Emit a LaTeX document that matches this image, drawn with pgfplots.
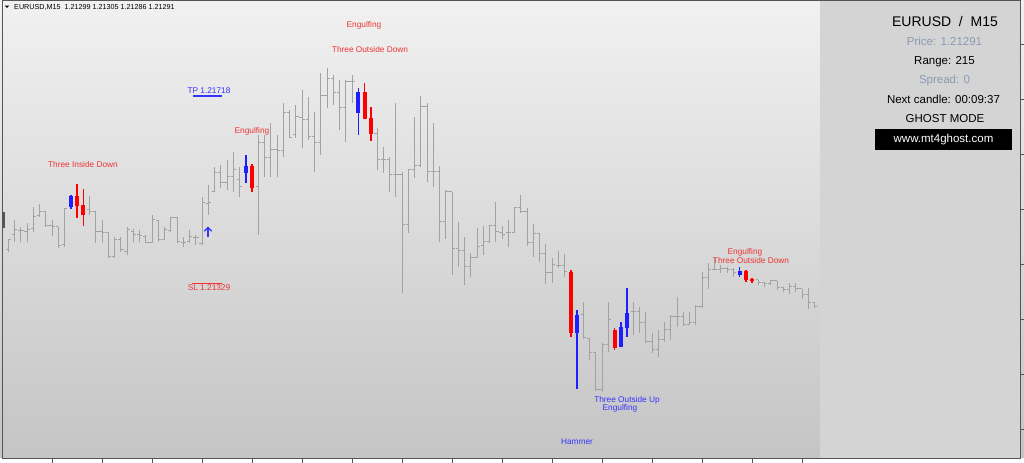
\documentclass[border=0pt]{standalone}
\usepackage{pgfplots}
\pgfplotsset{compat=1.18}
\usepackage{pgfplotstable}
\usepackage{fontspec}
\setmainfont{Liberation Sans}

\definecolor{barcol}{HTML}{A2A2A2}
\definecolor{bullcol}{HTML}{1E1EFF}
\definecolor{bearcol}{HTML}{FF0000}
\definecolor{lblred}{HTML}{EE3434}
\definecolor{lblblue}{HTML}{3434FF}
\definecolor{panel}{HTML}{D4D4D4}
\definecolor{dimtxt}{HTML}{8A9AB2}
\definecolor{bgtop}{HTML}{F1F1F1}
\definecolor{bgbot}{HTML}{C4C4C4}
\definecolor{frame}{HTML}{555555}

% open tick to the left, close tick to the right
\pgfdeclareplotmark{otick}{\pgfpathmoveto{\pgfpoint{-2.7bp}{0pt}}\pgfpathlineto{\pgfpoint{0pt}{0pt}}\pgfusepathqstroke}
\pgfdeclareplotmark{ctick}{\pgfpathmoveto{\pgfpoint{0pt}{0pt}}\pgfpathlineto{\pgfpoint{2.7bp}{0pt}}\pgfusepathqstroke}
% vertical segment going up from the point, \rng long (pt)
\pgfdeclareplotmark{vseg}{\pgfpathmoveto{\pgfpointorigin}\pgfpathlineto{\pgfpoint{0pt}{\rng pt}}\pgfusepathqstroke}

% EURUSD M15, prices in pips above 1.2000: bar index, open, high, low, close
\pgfplotstableread{
i o h l c
0 140.4 142.6 140.0 142.4
1 143.4 146.4 142.0 144.4
2 144.2 145.0 142.0 144.2
3 144.0 145.8 142.0 144.4
4 144.6 149.0 144.0 147.0
5 147.2 149.6 147.0 148.0
6 148.0 148.0 145.0 145.2
7 145.2 146.4 143.2 145.0
8 145.0 145.0 140.8 141.2
9 141.4 148.8 141.0 148.6
13 148.4 151.2 147.4 148.0
14 148.0 148.2 141.8 144.0
15 144.0 146.4 141.8 143.8
16 143.8 144.0 138.8 139.0
17 139.0 143.0 138.8 142.4
18 142.4 143.0 140.0 140.4
19 140.0 145.0 139.4 144.4
20 144.0 144.6 142.0 143.4
21 143.4 144.4 142.0 143.2
22 143.0 143.4 141.8 141.8
23 141.8 147.4 141.8 146.4
24 146.2 146.4 142.0 142.4
25 142.4 145.0 142.4 144.4
26 144.2 147.0 144.0 146.8
27 146.8 147.0 141.8 142.0
28 141.8 143.0 141.0 141.8
29 142.0 144.4 141.8 143.0
30 142.8 143.4 141.4 142.8
31 141.6 151.0 141.4 149.8
32 149.6 153.4 147.4 149.8
33 152.0 157.0 152.0 155.8
34 155.8 157.4 152.8 153.8
35 153.8 158.4 152.4 155.0
36 155.0 160.0 152.0 156.4
37 154.4 157.0 151.0 153.0
40 153.0 163.4 143.4 161.8
41 161.8 163.4 155.0 158.8
42 158.8 165.8 155.0 160.4
43 160.4 163.4 155.0 160.2
44 160.2 169.8 159.0 167.8
45 167.8 168.4 162.8 162.8
46 163.4 169.4 162.8 167.0
47 166.8 172.4 160.8 166.4
48 166.4 171.0 162.4 163.0
49 163.0 168.0 156.0 161.8
50 161.8 175.8 159.4 171.2
51 171.2 176.8 168.8 174.6
52 174.6 175.4 169.4 171.8
53 171.8 174.4 164.4 168.8
54 168.8 174.4 162.0 174.0
55 174.0 175.4 169.8 174.0
59 163.6 164.8 156.4 158.4
60 158.4 161.0 155.8 158.4
61 158.4 159.0 152.0 155.4
62 155.4 169.8 151.0 155.4
63 155.4 156.0 131.8 145.4
64 145.4 156.4 143.8 156.4
65 156.4 167.0 154.8 157.2
66 157.2 171.2 157.0 169.0
67 169.0 169.8 154.0 156.0
68 156.0 165.8 153.0 156.0
69 156.0 157.2 142.0 146.0
70 146.0 152.4 142.6 152.0
71 152.0 152.0 135.4 140.6
72 140.6 146.0 137.0 140.2
73 140.2 143.0 133.4 137.0
74 137.0 139.8 135.0 138.8
75 138.8 144.8 138.8 141.0
76 141.2 145.2 139.4 142.0
77 142.0 145.4 141.8 145.2
78 145.2 150.0 142.0 144.0
79 143.8 145.2 142.6 143.4
80 143.8 146.4 141.0 143.8
81 143.8 149.0 143.8 148.8
82 148.8 151.4 147.8 148.0
83 148.0 148.8 141.2 141.8
84 141.8 145.6 139.0 143.6
85 143.6 143.6 138.0 139.6
86 139.6 141.6 133.6 135.8
87 135.8 138.8 133.8 137.4
88 137.2 140.2 136.8 137.2
89 137.2 139.6 135.0 136.0
92 127.4 130.0 122.6 122.8
93 122.6 122.8 118.4 119.8
94 119.8 120.0 112.2 112.4
95 112.4 121.8 112.0 121.4
96 121.4 130.0 120.0 126.4
100 128.0 130.0 123.4 128.0
101 128.0 129.0 123.8 125.8
102 125.8 128.0 121.8 122.0
103 122.0 123.8 119.8 120.4
104 120.4 124.4 119.0 122.4
105 122.4 126.0 122.0 124.4
106 124.4 127.4 122.4 127.0
107 127.0 131.0 125.0 127.0
108 127.0 128.0 125.2 125.4
109 125.4 128.0 125.4 125.8
110 125.8 129.4 125.4 129.0
111 129.0 136.0 128.8 134.8
112 134.8 137.8 132.6 136.4
113 136.4 138.8 136.4 136.4
114 136.4 137.4 135.8 136.6
115 136.6 137.0 135.8 136.4
116 136.4 136.8 135.0 135.8
120 134.4 134.4 133.4 133.8
121 133.8 134.0 133.0 133.6
122 133.6 134.4 133.4 134.2
123 134.2 134.2 132.4 132.8
124 132.8 133.0 132.0 132.4
125 132.4 133.8 131.6 133.0
126 133.0 133.8 132.0 132.6
127 132.6 132.6 130.6 131.4
128 131.4 132.8 128.6 129.8
129 129.8 130.0 128.8 129.0
}\bars

% one pip is 5bp (463bp for 92.6 pips)
\pgfplotsset{
  seg/.style n args={3}{only marks, mark=vseg,
    mark options={draw=#1, line width=#2},
    visualization depends on={5.01875*(#3) \as \rng}},
  candle/.style n args={2}{draw=#1, color=#1, line width=#2, line cap=butt,
    mark=none, unbounded coords=jump},
}

\begin{document}
\begin{tikzpicture}
\begin{axis}[
    name=ax,
    scale only axis,
    width=1024bp, height=463bp,
    xmin=-1.328, xmax=162.512,
    ymin=97.8, ymax=190.4,
    axis lines=none, ticks=none,
    clip=false,
]
\shade[top color=bgtop, bottom color=bgbot] (rel axis cs:0,0) rectangle (rel axis cs:1,1);

% gray OHLC bars
\addplot[seg={barcol}{1bp}{\thisrow{h}-\thisrow{l}}] table[x=i, y=l] {\bars};
\addplot[only marks, mark=otick, mark options={draw=barcol, line width=1bp}]
    table[x=i, y=o] {\bars};
\addplot[only marks, mark=ctick, mark options={draw=barcol, line width=1bp}]
    table[x=i, y=c] {\bars};

% pattern candles, bullish: wick low-high, then body open-close
\addplot[candle={bullcol}{1.5bp}] coordinates {
  (10,148.6) (10,151.4) (10,nan) (38,153.8) (38,159.4) (38,nan)
  (56,163.4) (56,172.8) (56,nan) (91,112.6) (91,128.4) (91,nan)
  (98,121.0) (98,126.0) (98,nan) (99,123.0) (99,132.8) (99,nan)
  (117,135.0) (117,137.0)};
\addplot[candle={bullcol}{4bp}] coordinates {
  (10,149.0) (10,151.2) (10,nan) (38,155.8) (38,157.2) (38,nan)
  (56,167.8) (56,172.0) (56,nan) (91,123.8) (91,127.4) (91,nan)
  (98,121.0) (98,125.0) (98,nan) (99,124.8) (99,127.8) (99,nan)
  (117,135.4) (117,136.2)};
% pattern candles, bearish
\addplot[candle={bearcol}{1.5bp}] coordinates {
  (11,146.8) (11,153.6) (11,nan) (12,145.2) (12,152.6) (12,nan)
  (39,152.0) (39,157.6) (39,nan) (57,166.6) (57,173.8) (57,nan)
  (58,162.2) (58,169.0) (58,nan) (90,123.0) (90,136.4) (90,nan)
  (97,120.4) (97,124.8) (97,nan) (118,134.0) (118,136.4) (118,nan)
  (119,133.8) (119,134.8)};
\addplot[candle={bearcol}{4bp}] coordinates {
  (11,151.2) (11,149.2) (11,nan) (12,149.4) (12,147.4) (12,nan)
  (39,157.2) (39,152.8) (39,nan) (57,172.0) (57,166.6) (57,nan)
  (58,166.8) (58,163.6) (58,nan) (90,136.0) (90,123.8) (90,nan)
  (97,124.4) (97,120.8) (97,nan) (118,136.2) (118,134.4) (118,nan)
  (119,134.6) (119,134.2)};
\end{axis}

% overlay in pixel units, origin top left
\begin{scope}[shift={(ax.north west)}, x=1bp, y=-1bp]
  % info panel
  \fill[panel] (820,0) rectangle (1020.5,458);
  % frame and bottom strip
  \fill[white] (0,458.5) rectangle (1024,463);
  \draw[frame, line width=1bp] (2.5,0.5) rectangle (1020.5,458.5);
  \fill[frame] (2,212) rectangle (5,228);
  \foreach \t in {52,102,...,802} \draw[frame, line width=1bp] (\t,458.5) -- (\t,463);
  \foreach \t in {45,100,...,430} \draw[frame, line width=1bp] (1020.5,\t) -- (1024,\t);

  % title line
  \fill[black] (4.8,5.6) -- (9.4,5.6) -- (7.1,7.9) -- cycle;
  \node[anchor=base west, inner sep=0, font=\fontsize{7.2bp}{8bp}\selectfont] at (14,9.4)
    {EURUSD,M15\ \ 1.21299 1.21305 1.21286 1.21291};

  % pattern labels
  \begin{scope}[every node/.style={anchor=base, inner sep=0, font=\fontsize{8.3bp}{9bp}\selectfont}]
    \node[lblred] at (83,167.3) {Three Inside Down};
    \node[lblred] at (252,134) {Engulfing};
    \node[lblred] at (364,28) {Engulfing};
    \node[lblred] at (370,53) {Three Outside Down};
    \node[lblred] at (745,255) {Engulfing};
    \node[lblred] at (751,263.3) {Three Outside Down};
    \node[lblblue] at (627,402.8) {Three Outside Up};
    \node[lblblue] at (620,410.6) {Engulfing};
    \node[lblblue] at (577,444.3) {Hammer};
    \node[lblblue] at (209,93.5) {TP 1.21718};
    \node[lblred] at (209,290.5) {SL 1.21329};
  \end{scope}
  \draw[lblblue, line width=1.2bp] (193,96) -- (222,96);
  \draw[lblred, line width=1.2bp] (192,283.8) -- (222,283.8);
  % buy arrow
  \draw[lblblue, line width=1.3bp] (208,237.5) -- (208,227.5);
  \draw[lblblue, line width=1.3bp] (204.3,231.2) -- (208,227.5) -- (211.7,231.2);

  % panel text
  \begin{scope}[every node/.style={anchor=base, inner sep=0, font=\fontsize{11.5bp}{13bp}\selectfont}]
    \node[font=\fontsize{14bp}{16bp}\selectfont] at (945,26.7) {EURUSD\ \ /\ \ M15};
    \node[dimtxt] at (944.5,45.7) {Price: 1.21291};
    \node at (944.5,65) {Range: 215};
    \node[dimtxt] at (944.5,84) {Spread: 0};
    \node at (943.5,103.3) {Next candle: 00:09:37};
    \node at (945,122.7) {GHOST MODE};
  \end{scope}
  \fill[black] (875,129.5) rectangle (1012,150);
  \node[anchor=base, inner sep=0, white, font=\fontsize{11.5bp}{13bp}\selectfont] at (943.5,142.7) {www.mt4ghost.com};

  \pgfresetboundingbox
  \path[use as bounding box] (0,0) rectangle (1024,463);
\end{scope}
\end{tikzpicture}
\end{document}
